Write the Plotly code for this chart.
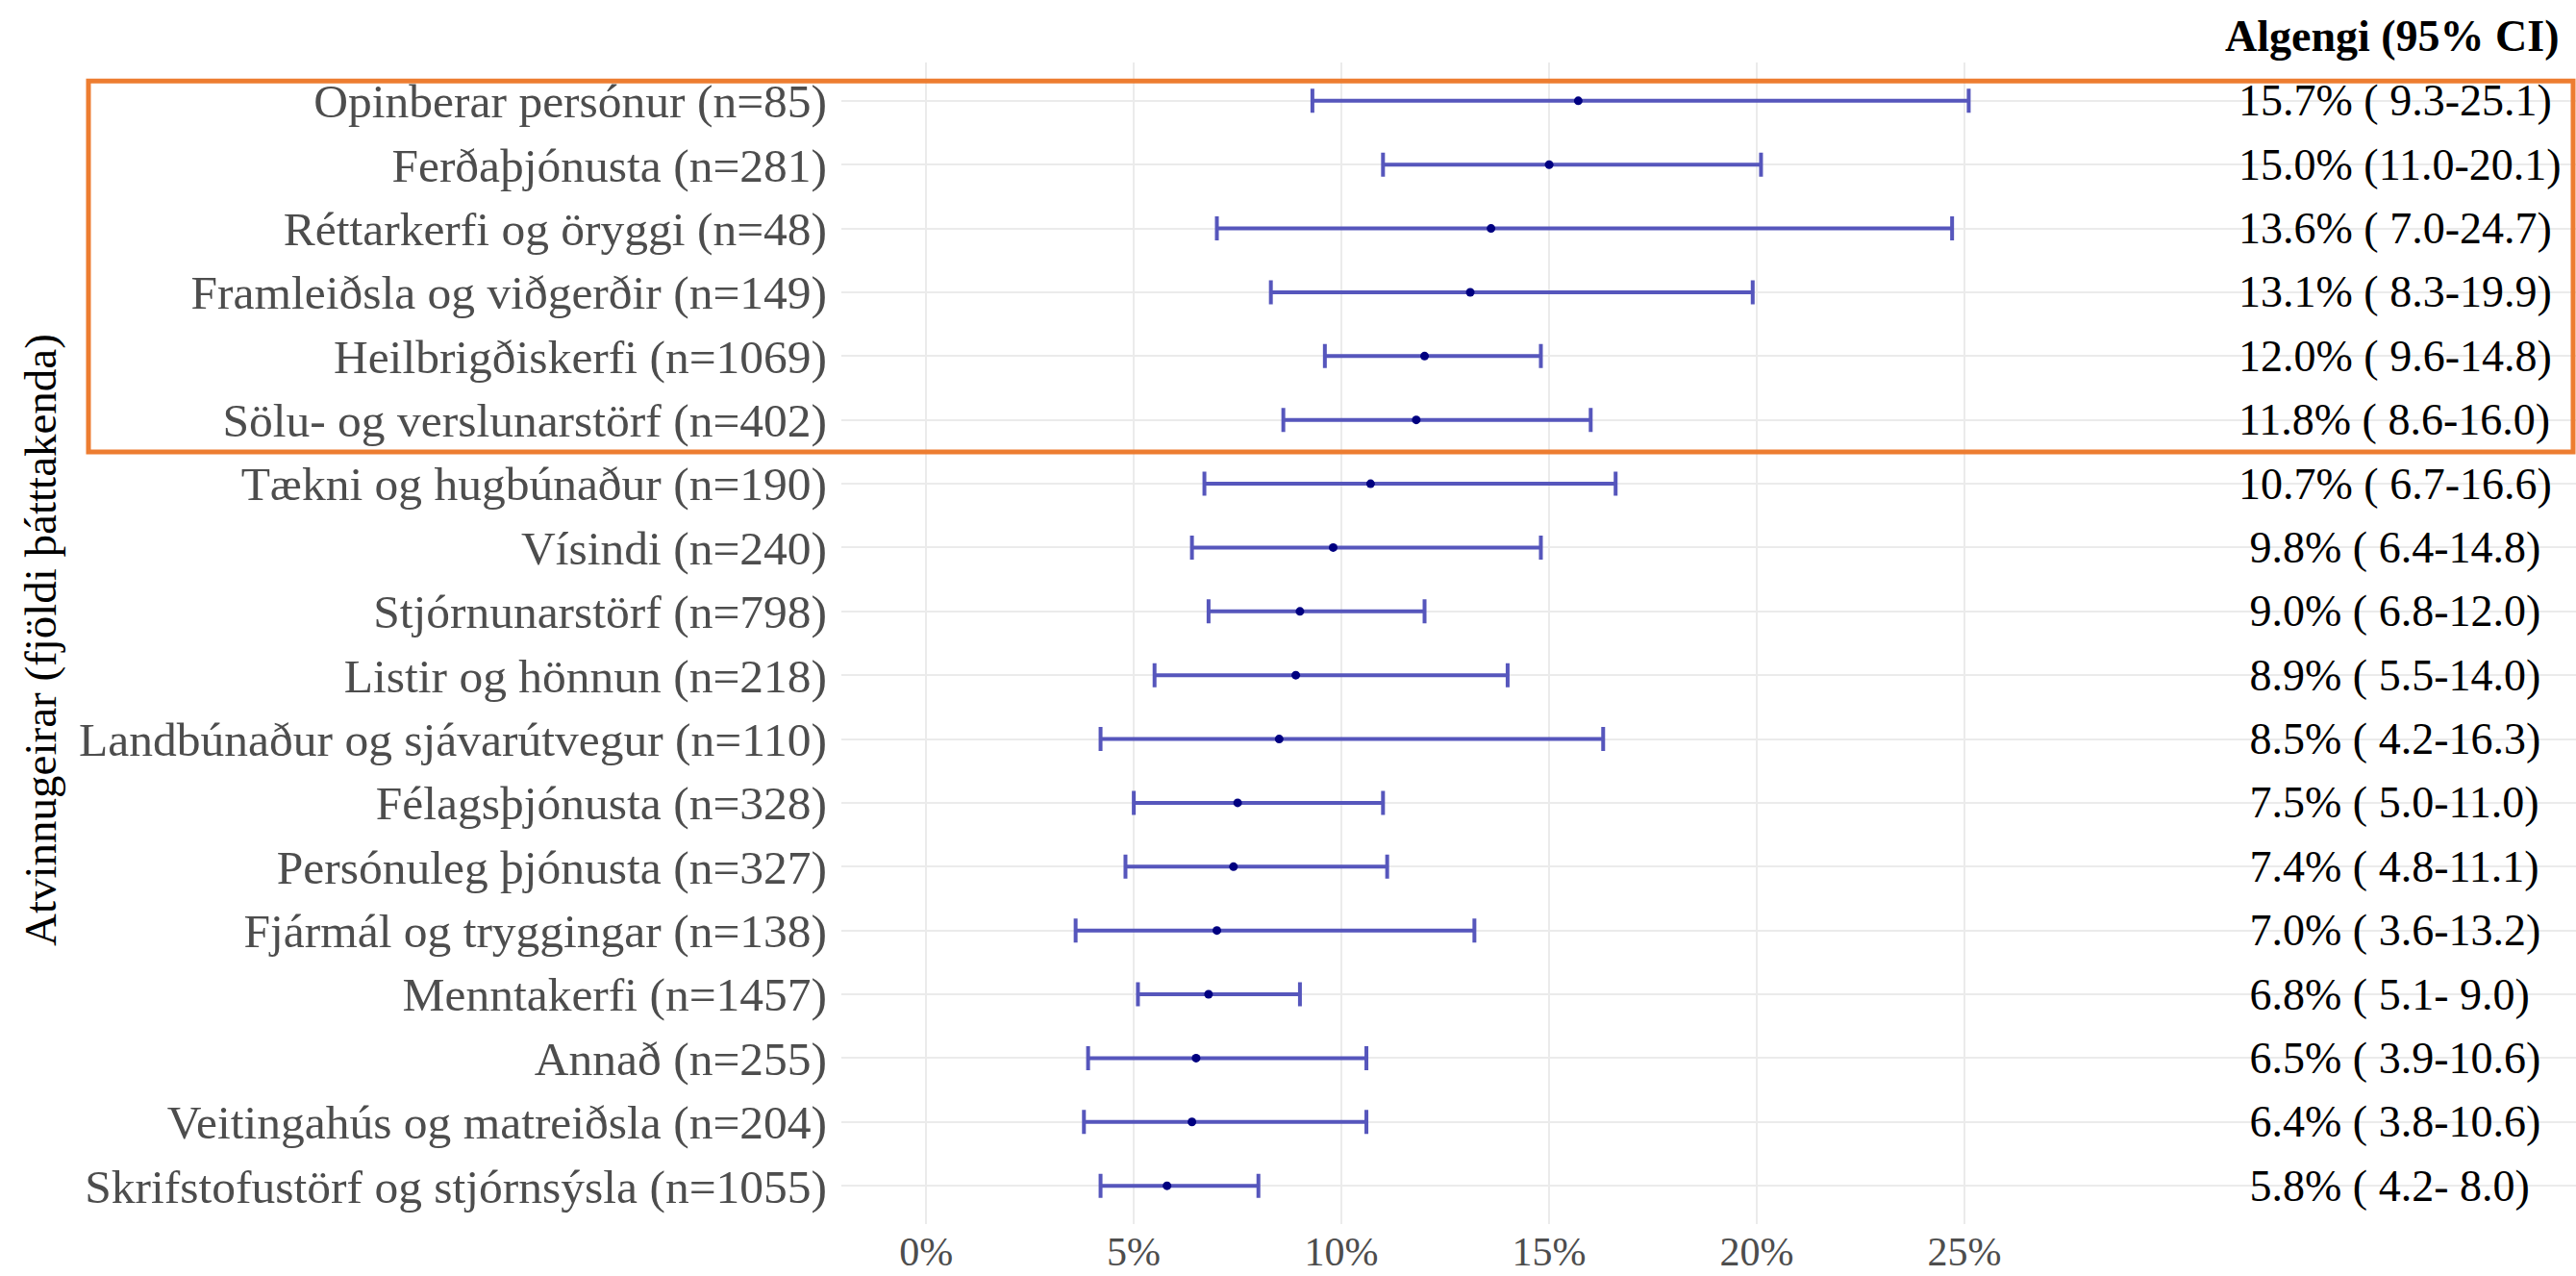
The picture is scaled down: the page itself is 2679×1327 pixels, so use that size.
import plotly.graph_objects as go

categories = [
    "Opinberar persónur (n=85)",
    "Ferðaþjónusta (n=281)",
    "Réttarkerfi og öryggi (n=48)",
    "Framleiðsla og viðgerðir (n=149)",
    "Heilbrigðiskerfi (n=1069)",
    "Sölu- og verslunarstörf (n=402)",
    "Tækni og hugbúnaður (n=190)",
    "Vísindi (n=240)",
    "Stjórnunarstörf (n=798)",
    "Listir og hönnun (n=218)",
    "Landbúnaður og sjávarútvegur (n=110)",
    "Félagsþjónusta (n=328)",
    "Persónuleg þjónusta (n=327)",
    "Fjármál og tryggingar (n=138)",
    "Menntakerfi (n=1457)",
    "Annað (n=255)",
    "Veitingahús og matreiðsla (n=204)",
    "Skrifstofustörf og stjórnsýsla (n=1055)",
]
prevalence = [15.7, 15.0, 13.6, 13.1, 12.0, 11.8, 10.7, 9.8, 9.0, 8.9, 8.5, 7.5, 7.4, 7.0, 6.8, 6.5, 6.4, 5.8]
ci_low = [9.3, 11.0, 7.0, 8.3, 9.6, 8.6, 6.7, 6.4, 6.8, 5.5, 4.2, 5.0, 4.8, 3.6, 5.1, 3.9, 3.8, 4.2]
ci_high = [25.1, 20.1, 24.7, 19.9, 14.8, 16.0, 16.6, 14.8, 12.0, 14.0, 16.3, 11.0, 11.1, 13.2, 9.0, 10.6, 10.6, 8.0]
x_ticks = [0, 5, 10, 15, 20, 25]
x_tick_labels = ["0%", "5%", "10%", "15%", "20%", "25%"]
header = "Algengi (95% CI)"
y_title = "Atvinnugeirar (fjöldi þátttakenda)"
highlight_rows = 6

W, H = 2679, 1327
ML, MR, MT, MB = 875, 0, 65, 54
PW, PH = W - ML - MR, H - MT - MB
FONT = "Liberation Serif, Times New Roman, serif"

labels = ["%4.1f%% (%4.1f-%4.1f)" % (p, l, h) for p, l, h in zip(prevalence, ci_low, ci_high)]

fig = go.Figure()
fig.add_trace(go.Scatter(
    x=prevalence, y=categories, mode="markers",
    marker=dict(color="#000080", size=9),
    error_x=dict(
        type="data", symmetric=False,
        array=[h - p for h, p in zip(ci_high, prevalence)],
        arrayminus=[p - l for p, l in zip(prevalence, ci_low)],
        color="#5656BC", thickness=4, width=12.5,
    ),
    showlegend=False, hoverinfo="skip",
))

text_x = 31.57
for cat, lab in zip(categories, labels):
    fig.add_annotation(x=text_x, y=cat, xref="x", yref="y", text=lab.replace(" ", "\u00a0"),
                       showarrow=False, xanchor="left", yanchor="middle", borderpad=0,
                       font=dict(family=FONT, size=46, color="#000000"))

fig.add_annotation(x=31.25, y=(H - MB - 38) / PH, xref="x", yref="paper", text="<b>" + header + "</b>",
                   showarrow=False, xanchor="left", yanchor="middle", borderpad=0,
                   font=dict(family=FONT, size=46, color="#000000"))

fig.add_annotation(x=(42 - ML) / PW, y=(H - MB - 666) / PH, xref="paper", yref="paper",
                   text=y_title, textangle=-90, showarrow=False,
                   xanchor="center", yanchor="middle",
                   font=dict(family=FONT, size=47, color="#000000"))

fig.add_shape(type="rect", xref="paper", yref="y",
              x0=(92 - ML) / PW, x1=(2676 - ML) / PW,
              y0=-0.31, y1=highlight_rows - 0.5,
              line=dict(color="#ED7D31", width=5), fillcolor="rgba(0,0,0,0)", layer="above")

fig.update_layout(
    width=W, height=H,
    margin=dict(l=ML, r=MR, t=MT, b=MB, pad=0, autoexpand=False),
    paper_bgcolor="white", plot_bgcolor="white",
    font=dict(family=FONT),
    xaxis=dict(range=[-2.04, 39.72], tickvals=x_ticks, ticktext=x_tick_labels,
               showgrid=True, gridcolor="#EBEBEB", gridwidth=2, zeroline=False,
               showline=False, ticks="", automargin=False,
               tickfont=dict(family=FONT, size=42, color="#4D4D4D"), fixedrange=True),
    yaxis=dict(type="category", categoryorder="array", categoryarray=categories,
               range=[len(categories) - 0.4, -0.6], automargin=False,
               showgrid=True, gridcolor="#EBEBEB", gridwidth=2, zeroline=False,
               showline=False, ticks="outside", ticklen=4, tickcolor="rgba(0,0,0,0)",
               tickfont=dict(family=FONT, size=49.5, color="#4D4D4D"), fixedrange=True),
)

fig.write_html("out.html", config={"displayModeBar": False},
               post_script="document.body.style.margin='0';document.body.style.overflow='hidden';")
